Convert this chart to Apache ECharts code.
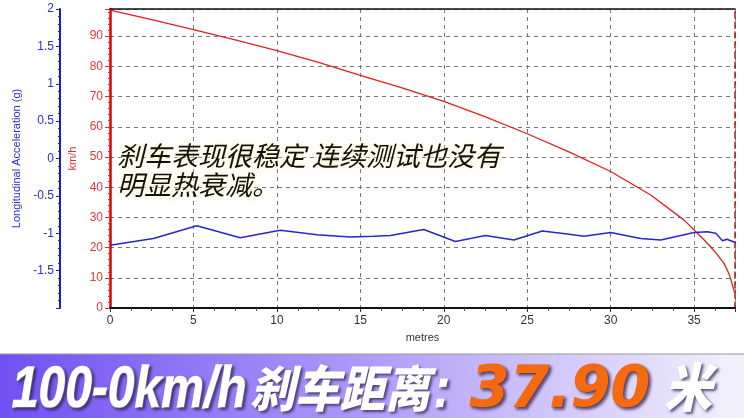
<!DOCTYPE html>
<html><head><meta charset="utf-8">
<script src="https://cdn.jsdelivr.net/npm/echarts@6/dist/echarts.min.js"></script>
<style>html,body{margin:0;padding:0;background:#fff}#c{width:744px;height:418px}</style>
</head><body><div id="c"></div>
<script>
// ---- data ----
const speedDist = [0, 2.5, 5, 7.5, 10, 12.5, 15, 17.5, 20, 22.5, 25, 27.5, 30, 32.4, 34.4, 35, 35.5, 36, 36.4, 36.8, 37.1, 37.27, 37.43];
const speedKmh  = [98.6, 95.5, 92.2, 88.8, 85.2, 81.3, 77.0, 72.9, 68.4, 63.3, 57.7, 51.7, 45.2, 37.4, 29.1, 25.8, 23.1, 20.2, 17.6, 14.7, 11.2, 8.1, 5];
const accDist = [0, 2.6, 5.2, 7.8, 10.2, 12.4, 14.4, 15.8, 16.8, 18.8, 20.7, 22.5, 24.2, 25.9, 27.4, 28.4, 30.0, 31.8, 33.0, 35.0, 35.8, 36.3, 36.7, 36.97, 37.43];
const accG    = [-1.16, -1.07, -0.90, -1.06, -0.96, -1.02, -1.05, -1.04, -1.03, -0.95, -1.11, -1.03, -1.09, -0.97, -1.01, -1.04, -0.99, -1.07, -1.09, -0.99, -0.98, -1.00, -1.10, -1.08, -1.12];
const xMax = 37.45;
const note = ['刹车表现很稳定 连续测试也没有', '明显热衰减。'];
const bannerParts = ['100-0km/h', '刹车距离', ':', '37.90', '米'];

const speedData = speedDist.map((d, i) => [d, speedKmh[i]]);
const accData = accDist.map((d, i) => [d, accG[i]]);

const chart = echarts.init(document.getElementById('c'), null, {renderer: 'canvas'});
const LAT = '"Liberation Sans", Arial, sans-serif';
const CJK = '"Noto Sans CJK SC", sans-serif';
const shadow = {textShadowColor: 'rgba(40,30,80,0.75)', textShadowBlur: 3, textShadowOffsetX: 2, textShadowOffsetY: 2};

chart.setOption({
  animation: false,
  backgroundColor: '#fff',
  grid: {left: 110, right: 9, top: 9, bottom: 110, containLabel: false},
  xAxis: [{
    type: 'value', min: 0, max: xMax, interval: 5,
    name: 'metres', nameLocation: 'middle', nameGap: 24,
    nameTextStyle: {color: '#333', fontSize: 11, fontFamily: LAT},
    axisLine: {show: true, onZero: false, lineStyle: {color: '#111', width: 2}},
    axisTick: {show: true, length: 4, lineStyle: {color: '#333'}},
    minorTick: {show: true, splitNumber: 4, length: 3, lineStyle: {color: '#555'}},
    axisLabel: {color: '#333', fontSize: 12, fontFamily: LAT, margin: 7, showMaxLabel: false},
    splitLine: {show: true, lineStyle: {color: '#777', type: [4, 4], width: 1}}
  }, {
    type: 'value', min: 0, max: xMax, position: 'top',
    axisLine: {show: true, onZero: false, lineStyle: {color: '#111', width: 1.5}},
    axisTick: {show: false}, axisLabel: {show: false}, splitLine: {show: false}
  }],
  yAxis: [{
    type: 'value', min: 0, max: 99, interval: 10, position: 'left', offset: 0,
    name: 'km/h', nameLocation: 'middle', nameGap: 17,
    nameTextStyle: {color: '#e03030', fontSize: 11, fontFamily: LAT},
    axisLine: {show: true, onZero: false, lineStyle: {color: '#e00000', width: 2.5}},
    axisTick: {show: true, length: 5, lineStyle: {color: '#e03030'}},
    minorTick: {show: true, splitNumber: 5, length: 2, lineStyle: {color: '#e03030'}},
    axisLabel: {color: '#e03a3a', fontSize: 12, fontFamily: LAT, margin: 7, showMaxLabel: false},
    splitLine: {show: true, lineStyle: {color: '#777', type: [4, 4], width: 1}}
  }, {
    type: 'value', min: -2, max: 2, interval: 0.5, position: 'left', offset: 50,
    name: 'Longitudinal Acceleration (g)', nameLocation: 'middle', nameGap: 23,
    nameTextStyle: {color: '#2830c0', fontSize: 11, fontFamily: LAT},
    axisLine: {show: true, onZero: false, lineStyle: {color: '#1a1ad0', width: 2}},
    axisTick: {show: true, length: 4, lineStyle: {color: '#1a1ad0'}},
    minorTick: {show: true, splitNumber: 5, length: 2, lineStyle: {color: '#1a1ad0'}},
    axisLabel: {color: '#2830c0', fontSize: 12, fontFamily: LAT, margin: 6, showMinLabel: false},
    splitLine: {show: false}
  }, {
    type: 'value', min: 0, max: 99, position: 'right',
    axisLine: {show: true, onZero: false, lineStyle: {color: '#a02020', width: 1.5, type: [6, 4]}},
    axisTick: {show: false}, axisLabel: {show: false}, splitLine: {show: false}
  }],
  series: [{
    type: 'line', name: 'speed', xAxisIndex: 0, yAxisIndex: 0, data: speedData,
    smooth: false, showSymbol: false, lineStyle: {color: '#e02020', width: 1.3}, z: 3
  }, {
    type: 'line', name: 'acc', xAxisIndex: 0, yAxisIndex: 1, data: accData,
    smooth: false, showSymbol: false, lineStyle: {color: '#2828c8', width: 1.5}, z: 4
  }],
  graphic: [
    {type: 'text', x: 117, y: 141, z: 10, style: {
      text: note.join('\n'), fill: '#111', font: 'italic 27px ' + CJK, lineHeight: 29,
      textShadowColor: '#fff6b0', textShadowBlur: 6
    }},
    {type: 'rect', shape: {x: 0, y: 354, width: 744, height: 64}, z: 1, style: {
      fill: new echarts.graphic.LinearGradient(0, 0, 1, 0, [
        {offset: 0, color: '#7150f2'}, {offset: 0.45, color: '#a994f8'}, {offset: 1, color: '#f4f2fd'}])
    }},
    {type: 'rect', shape: {x: 0, y: 353.5, width: 744, height: 1}, z: 2, style: {fill: '#9a9a9a'}},
    {type: 'text', x: 12, y: 420, scaleY: 1.2, z: 5, style: Object.assign({
      text: bannerParts[0], fill: '#fff', stroke: '#fff', lineWidth: 1.2,
      font: 'italic bold 48px ' + LAT, verticalAlign: 'bottom'}, shadow)},
    {type: 'text', x: 250, y: 413, scaleY: 1.1, z: 5, style: Object.assign({
      text: bannerParts[1], fill: '#fff', font: 'italic 900 45px ' + CJK, verticalAlign: 'bottom'}, shadow)},
    {type: 'text', x: 434, y: 419, scaleY: 1.15, z: 5, style: Object.assign({
      text: bannerParts[2], fill: '#fff', stroke: '#fff', lineWidth: 1,
      font: 'italic bold 48px ' + LAT, verticalAlign: 'bottom'}, shadow)},
    {type: 'text', x: 470, y: 421, scaleY: 1.0, z: 5, style: Object.assign({
      text: bannerParts[3], fill: '#f56a10', stroke: '#f56a10', lineWidth: 1,
      font: 'italic bold 57px "DejaVu Sans", sans-serif', verticalAlign: 'bottom'}, shadow)},
    {type: 'text', x: 664, y: 413, scaleY: 1.1, z: 5, style: Object.assign({
      text: bannerParts[4], fill: '#fff', font: 'italic 900 48px ' + CJK, verticalAlign: 'bottom'}, shadow)}
  ]
});
</script></body></html>
